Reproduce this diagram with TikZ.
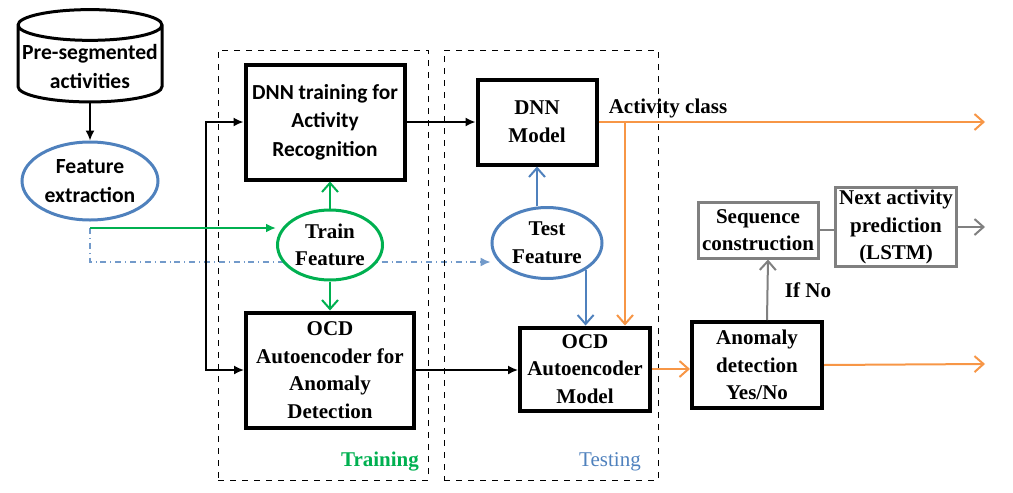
\documentclass[tikz,border=0pt]{standalone}
\usepackage{fontspec}
\setmainfont{Liberation Serif}
\newfontfamily\calib{Carlito}
\usetikzlibrary{arrows.meta,shapes.geometric,backgrounds}

\definecolor{trgreen}{RGB}{0,176,80}
\definecolor{tsblue}{RGB}{79,129,189}
\definecolor{acorange}{RGB}{247,150,70}
\definecolor{lstgray}{RGB}{128,128,128}

\begin{document}
\begin{tikzpicture}[x=0.5pt,y=-0.5pt,font=\bfseries\fontsize{10.5}{13.8}\selectfont]
  \useasboundingbox (0,0) rectangle (1013,493);

  \begin{scope}[every node/.style={draw,dashed,line width=0.5pt}]
    \node (training) at (323,265) [minimum width=105pt,minimum height=215pt] {};
    \node (testing) at (551,265) [minimum width=107pt,minimum height=215pt] {};
  \end{scope}
  \node[text=trgreen] (trlabel) at (380,462) {Training};
  \node[text=tsblue,font=\fontsize{10.5}{12}\selectfont] (tslabel) at (610,462) {Testing};

  \node[cylinder,shape border rotate=90,draw,line width=1.5pt,aspect=0.22,
        minimum width=72pt,minimum height=43pt,align=center,inner sep=1pt,
        font=\calib\bfseries\fontsize{10.8}{14.5}\selectfont] (presegm) at (90,66) {Pre-segmented\\activities};

  \begin{scope}[every node/.style={ellipse,draw,fill=white,line width=1.5pt,align=center,inner sep=0pt}]
    \node[draw=tsblue,minimum width=68pt,minimum height=39pt,
          font=\calib\bfseries\fontsize{10.8}{14.5}\selectfont] (featext) at (90,181) {Feature\\extraction};
    \node[draw=trgreen,minimum width=52.5pt,minimum height=35pt] (trainfeat) at (330,245) {Train\\Feature};
    \node[draw=tsblue,minimum width=55pt,minimum height=35.5pt] (testfeat) at (547,243) {Test\\Feature};
  \end{scope}

  \begin{scope}[every node/.style={rectangle,draw,line width=2pt,align=center,inner sep=1pt}]
    \node[minimum width=79.5pt,minimum height=57.5pt,
          font=\calib\bfseries\fontsize{10.7}{14.2}\selectfont] (dnntrain) at (325,122) {DNN training for\\Activity\\Recognition};
    \node[minimum width=84pt,minimum height=57.5pt] (ocdtrain) at (330,370) {OCD\\Autoencoder for\\Anomaly\\Detection};
    \node[minimum width=59.5pt,minimum height=42.5pt] (dnnmodel) at (537,122) {DNN\\Model};
    \node[minimum width=65pt,minimum height=41.5pt] (ocdmodel) at (585,369) {OCD\\Autoencoder\\Model};
    \node[minimum width=65pt,minimum height=43pt] (anomaly) at (757,365) {Anomaly\\detection\\Yes/No};
    \node[draw=lstgray,line width=1.5pt,minimum width=60pt,minimum height=28pt] (seqcon) at (758,230) {Sequence\\construction};
    \node[draw=lstgray,line width=1.5pt,minimum width=60.5pt,minimum height=38.5pt] (nextact) at (896,227) {Next activity\\prediction\\(LSTM)};
  \end{scope}

  \coordinate (split) at (90,228);
  \coordinate (dashturn) at (90,262);
  \coordinate (fork) at (206,250);
  \coordinate (branch) at (625,122);
  \coordinate (outclass) at (985,122);
  \coordinate (outano) at (985,364);
  \coordinate (outnext) at (985,227);

  \begin{scope}[line width=0.8pt]
    \draw[-{Latex[length=5pt,width=4.5pt]}] (presegm) -- (featext);
    \draw[-{Latex[length=5pt,width=4.5pt]}] (fork) |- (dnntrain);
    \draw[-{Latex[length=5pt,width=4.5pt]}] (fork) |- (ocdtrain);
    \draw[-{Latex[length=5pt,width=4.5pt]}] (dnntrain) -- (dnnmodel);
    \draw[-{Latex[length=5pt,width=4.5pt]}] (ocdtrain.east) -- (ocdtrain.east -| ocdmodel.west);
  \end{scope}

  \begin{pgfonlayer}{background}
    \draw[tsblue!80,dash dot,line width=0.7pt,-{Latex[length=5pt,width=4.5pt]}] (split) -- (dashturn) -- (dashturn -| testfeat.west);
  \end{pgfonlayer}

  \begin{scope}[every path/.style={line width=1pt},open/.style={-{Straight Barb[length=4.5pt,width=8pt]}}]
    \draw[trgreen,-{Latex[length=5pt,width=4.5pt]}] (split) -- (trainfeat.west |- split);
    \draw[trgreen,open] (trainfeat) -- (trainfeat |- dnntrain.south);
    \draw[trgreen,open] (trainfeat) -- (trainfeat |- ocdtrain.north);
    \draw[tsblue,open] (testfeat.north -| dnnmodel.south) -- (dnnmodel.south);
    \draw[tsblue,open] (testfeat.-35) -- (testfeat.-35 |- ocdmodel.north);
    \draw[acorange,open] (dnnmodel.east) -- (outclass);
    \draw[acorange,open] (branch) -- (branch |- ocdmodel.north);
    \draw[acorange,open] (ocdmodel.east) -- (ocdmodel.east -| anomaly.west);
    \draw[acorange,open] (anomaly.east) -- (outano);
    \draw[lstgray,open] ([xshift=5pt]anomaly.north) -- ([xshift=5pt]seqcon.south);
    \draw[lstgray] (seqcon.east) -- (seqcon.east -| nextact.west);
    \draw[lstgray,open] (nextact.east) -- (outnext);
  \end{scope}

  \node (actclass) at (668,108) {Activity class};
  \node (ifno) at (808,290) {If No};

\end{tikzpicture}
\end{document}
